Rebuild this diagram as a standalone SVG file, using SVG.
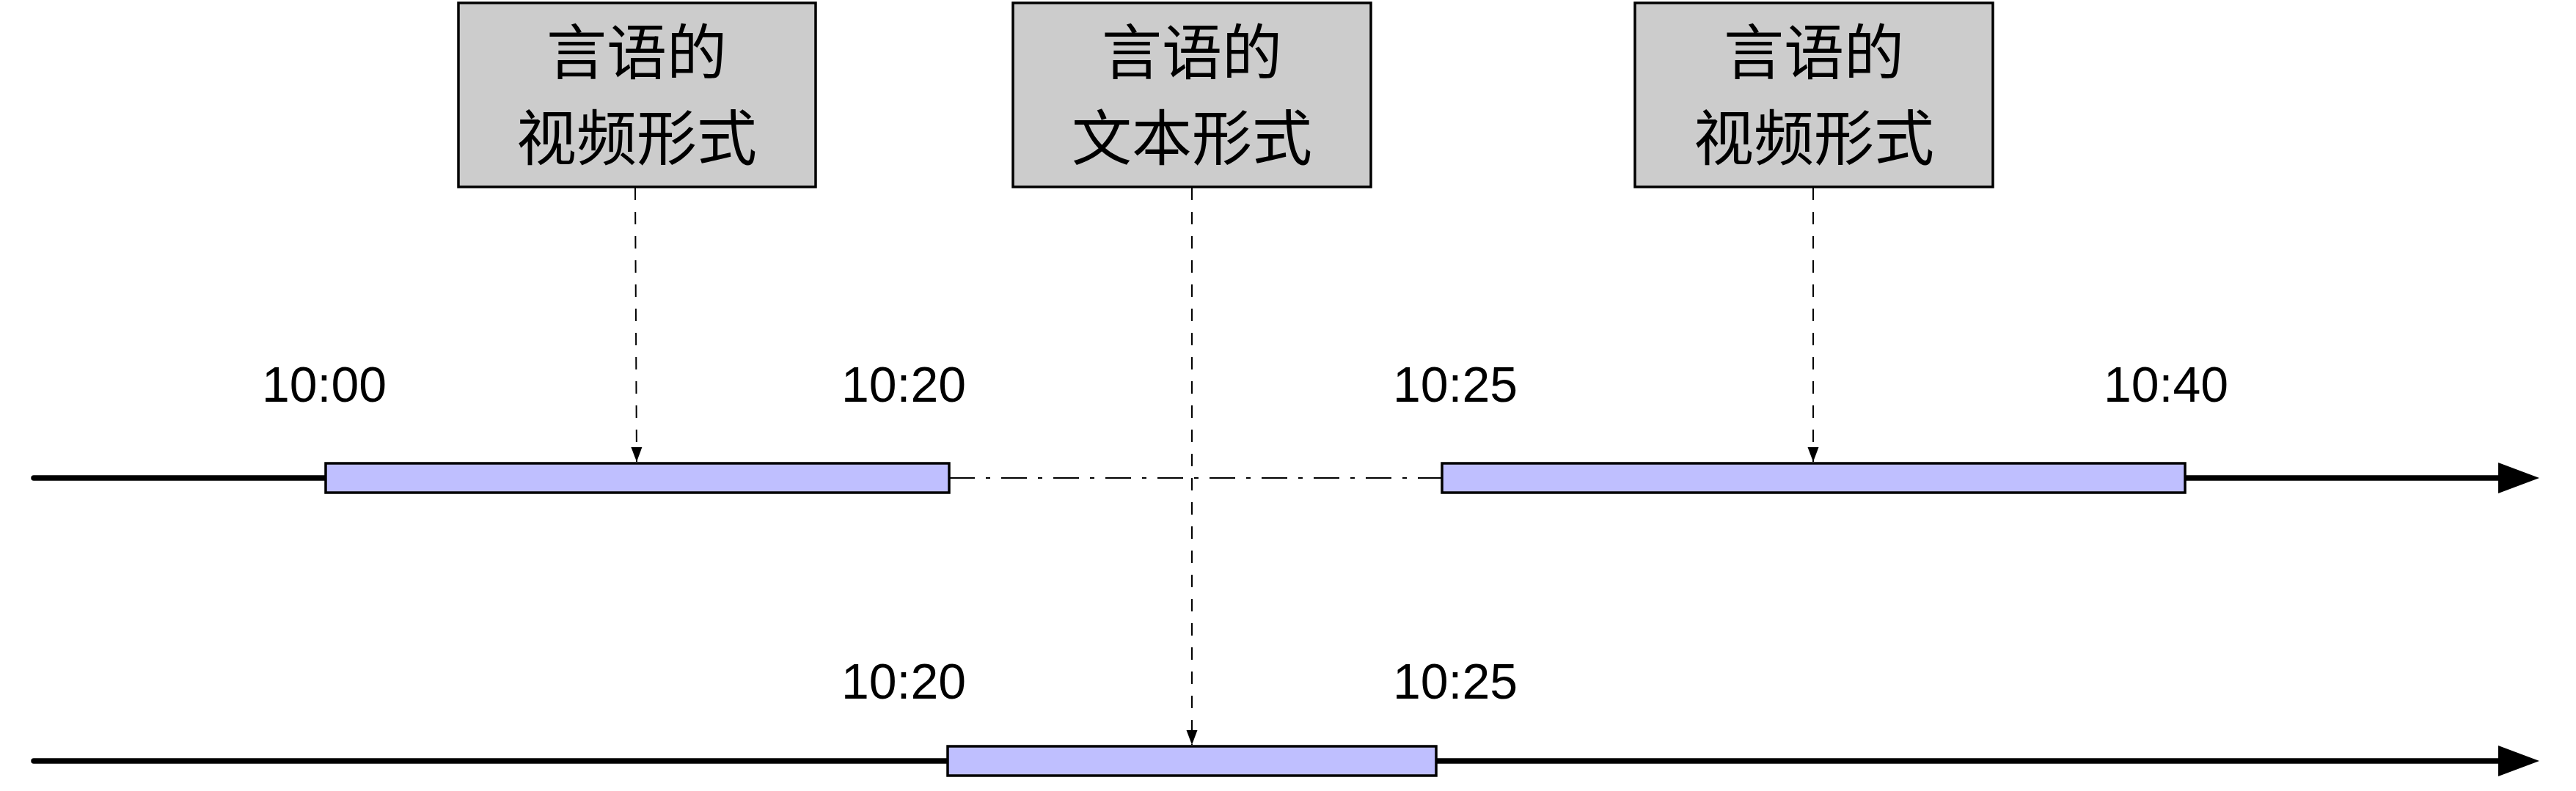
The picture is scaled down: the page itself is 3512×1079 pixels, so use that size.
<svg xmlns="http://www.w3.org/2000/svg" width="3512" height="1079" viewBox="0 0 3512 1079">
<style>
.box{fill:#cccccc;stroke:#000;stroke-width:3.5}
.bar{fill:#bfbfff;stroke:#000;stroke-width:3.5}
.cjk{font-family:"Noto Sans CJK SC","Noto Sans",sans-serif;font-size:82px;fill:#000;text-anchor:middle}
.time{font-family:"Liberation Sans",Arial,sans-serif;font-size:68px;fill:#000;text-anchor:middle}
.axis{stroke:#000;stroke-width:7.5;stroke-linecap:round;fill:none}
.dash{stroke:#000;stroke-width:2;stroke-dasharray:17 16;fill:none}
.dashdot{stroke:#000;stroke-width:2;stroke-dasharray:35 15 6 15;fill:none}
.head{fill:#000}
</style>
<defs>
<marker id="arr" markerUnits="userSpaceOnUse" markerWidth="20" markerHeight="16" refX="20" refY="8" orient="auto">
<path d="M0,0.5 L20,8 L0,15.5 z" fill="#000"/>
</marker>
</defs>
<rect width="3512" height="1079" fill="#fff"/>
<g id="timeline-top">
<line class="axis" x1="46" y1="652" x2="444" y2="652"/>
<line class="axis" x1="2979" y1="652" x2="3410" y2="652"/>
<polygon class="head" points="3406,631 3462,652 3406,673"/>
</g>
<g id="timeline-bottom">
<line class="axis" x1="46" y1="1038" x2="3410" y2="1038"/>
<polygon class="head" points="3406,1017 3462,1038 3406,1059"/>
</g>
<g id="connectors">
<line class="dashdot" x1="1294" y1="652" x2="1966" y2="652"/>
<line class="dash" x1="866" y1="256" x2="868" y2="630" marker-end="url(#arr)"/>
<line class="dash" x1="1625" y1="256" x2="1625" y2="1016" marker-end="url(#arr)"/>
<line class="dash" x1="2472" y1="256" x2="2472" y2="630" marker-end="url(#arr)"/>
</g>
<g id="bar1"><rect class="bar" x="444" y="632" width="850" height="40"/></g>
<g id="bar2"><rect class="bar" x="1966" y="632" width="1013" height="40"/></g>
<g id="bar3"><rect class="bar" x="1292" y="1018" width="666" height="40"/></g>
<g id="box1">
<rect class="box" x="625" y="4" width="487" height="251"/>
<text class="cjk" x="868" y="101">言语的</text>
<text class="cjk" x="868" y="218">视频形式</text>
</g>
<g id="box2">
<rect class="box" x="1381" y="4" width="488" height="251"/>
<text class="cjk" x="1625" y="101">言语的</text>
<text class="cjk" x="1625" y="218">文本形式</text>
</g>
<g id="box3">
<rect class="box" x="2229" y="4" width="488" height="251"/>
<text class="cjk" x="2473" y="101">言语的</text>
<text class="cjk" x="2473" y="218">视频形式</text>
</g>
<g id="labels">
<text class="time" x="442" y="548">10:00</text>
<text class="time" x="1232" y="548">10:20</text>
<text class="time" x="1984" y="548">10:25</text>
<text class="time" x="2953" y="548">10:40</text>
<text class="time" x="1232" y="953">10:20</text>
<text class="time" x="1984" y="953">10:25</text>
</g>
</svg>
